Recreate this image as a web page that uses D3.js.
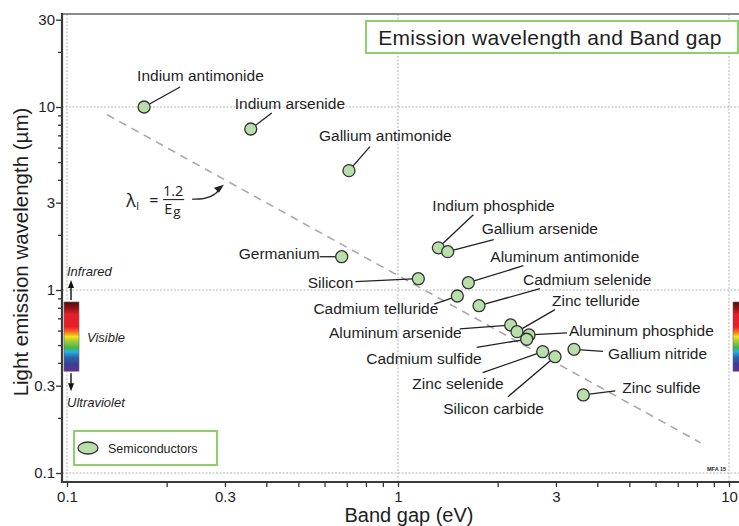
<!DOCTYPE html>
<html><head><meta charset="utf-8">
<script src="https://cdn.jsdelivr.net/npm/d3@7"></script>
<style>
body{margin:0;background:#fff}
svg{display:block}
text{font-family:"Liberation Sans",Arial,Helvetica,sans-serif;fill:#1e1e1e}
</style>
</head><body>
<svg id="c" width="739" height="526"></svg>
<script>
// ---------- data ----------
const materials = ["Indium antimonide","Indium arsenide","Gallium antimonide","Germanium","Silicon",
  "Indium phosphide","Gallium arsenide","Aluminum antimonide","Cadmium telluride","Cadmium selenide",
  "Aluminum arsenide","Zinc telluride","Aluminum phosphide","Cadmium sulfide","Gallium nitride",
  "Zinc selenide","Silicon carbide","Zinc sulfide"];
const bandGap = [0.171,0.359,0.711,0.676,1.152,1.324,1.413,1.631,1.511,1.757,2.19,2.288,2.488,2.448,3.402,2.736,2.981,3.63];
const wavelength = [10,7.58,4.49,1.52,1.153,1.70,1.62,1.096,0.927,0.821,0.644,0.592,0.568,0.538,0.474,0.460,0.432,0.267];
const xTickLabels = [0.1,0.3,1,3,10];
const yTickLabels = [0.1,0.3,1,3,10,30];
const fitBandGap = [0.132, 8.2];
const fitConstant = 1.2;
const visibleRange = [0.36, 0.86];
const legendLabel = "Semiconductors";
const chartTitle = "Emission wavelength and Band gap";

// label layout: text offset, anchor, leader end offset (pixels relative to the point)
const labelLayout = [
  [-7,-26,"start",36,-20],[-16,-20,"start",21,-16],[-30,-30,"start",21,-24],[-22,2.5,"end",-22,0],
  [-65,9.5,"end",-63,3],[-6,-37,"start",35,-33],[34,-18,"start",46,-12],[22,-21,"start",55,-17],
  [-19,18,"end",-23,8],[44,-21,"start",61,-17],[-49,13,"end",-51,4],[35,-26,"start",38,-22],
  [40,1,"start",38,-2],[-45,25,"end",-50,8],[34,10,"start",29,2],[-39,37,"end",-60,21],
  [-11,57,"end",-47,40],[39,-2,"start",32,-4]
];

// ---------- scales ----------
const svg = d3.select("#c");
const x = d3.scaleLog().domain([0.1,10]).range([67,729]);
const y = d3.scaleLog().domain([0.1,10]).range([473,107]);
const pLeft = 62, pRight = 739, pTop = 14, pBottom = 482;

// gradient
const defs = svg.append("defs");
const grad = defs.append("linearGradient").attr("id","spec").attr("x1",0).attr("y1",0).attr("x2",0).attr("y2",1);
[[0,"#4e0d0d"],[0.1,"#9c1414"],[0.18,"#e3202a"],[0.36,"#ed1c24"],[0.44,"#f47a20"],[0.5,"#f7e317"],
 [0.56,"#a6cf3a"],[0.66,"#45b649"],[0.72,"#27b1e6"],[0.8,"#2b62b0"],[0.9,"#3d3c97"],[1,"#6a2a8c"]]
 .forEach(s=>grad.append("stop").attr("offset",s[0]).attr("stop-color",s[1]));

// gridlines
const grid = svg.append("g").attr("stroke","#b4b4b4").attr("stroke-width",1).attr("stroke-dasharray","2,1.5");
[0.1,1,10].forEach(v=>grid.append("line").attr("x1",x(v)).attr("x2",x(v)).attr("y1",pTop).attr("y2",pBottom));
[0.1,1,10].forEach(v=>grid.append("line").attr("y1",y(v)).attr("y2",y(v)).attr("x1",pLeft).attr("x2",pRight));

// frame top
svg.append("line").attr("x1",pLeft).attr("x2",pRight).attr("y1",pTop).attr("y2",pTop).attr("stroke","#8a8a8a").attr("stroke-width",2.2);

// minor tick values
function logTicks(lo,hi){const t=[];for(let e=-1;e<=1;e++)for(let m=1;m<=9;m++){const v=+(m*Math.pow(10,e)).toPrecision(3);if(v>=lo&&v<=hi)t.push(v);}return t;}
const fmt = d3.format("~g");

// y axis
const yMinor = d3.axisLeft(y).tickValues(logTicks(0.1,30).filter(v=>!yTickLabels.includes(v))).tickSize(4).tickFormat("");
const yMajor = d3.axisLeft(y).tickValues(yTickLabels).tickSize(6).tickPadding(1).tickFormat(fmt);
[yMinor,yMajor].forEach(a=>{
  const g = svg.append("g").attr("transform",`translate(${pLeft},0)`).call(a);
  g.select(".domain").remove();
  g.selectAll("line").attr("stroke","#333").attr("stroke-width",1.3);
  g.selectAll("text").attr("font-size",15).attr("fill","#1e1e1e").style("font-family","Liberation Sans, Arial, sans-serif");
});
// x axis
const xMinor = d3.axisBottom(x).tickValues(logTicks(0.1,10).filter(v=>!xTickLabels.includes(v))).tickSize(5).tickFormat("");
const xMajor = d3.axisBottom(x).tickValues(xTickLabels).tickSize(5).tickPadding(4).tickFormat(fmt);
[xMinor,xMajor].forEach(a=>{
  const g = svg.append("g").attr("transform",`translate(0,${pBottom})`).call(a);
  g.select(".domain").remove();
  g.selectAll("line").attr("stroke","#333").attr("stroke-width",1.3);
  g.selectAll("text").attr("font-size",15).attr("fill","#1e1e1e").style("font-family","Liberation Sans, Arial, sans-serif");
});
// axis lines
svg.append("line").attr("x1",pLeft).attr("x2",pLeft).attr("y1",pTop-1).attr("y2",pBottom+1).attr("stroke","#3a3a3a").attr("stroke-width",2.2);
svg.append("line").attr("x1",pLeft-1).attr("x2",pRight).attr("y1",pBottom).attr("y2",pBottom).attr("stroke","#3a3a3a").attr("stroke-width",2.2);

// axis titles
svg.append("text").attr("x",409).attr("y",522).attr("text-anchor","middle").attr("font-size",20).text("Band gap (eV)");
svg.append("text").attr("transform","translate(28,252) rotate(-90)").attr("text-anchor","middle").attr("font-size",20.5).text("Light emission wavelength (µm)");

// fit line
svg.append("line")
  .attr("x1",x(fitBandGap[0])).attr("y1",y(fitConstant/fitBandGap[0]))
  .attr("x2",x(fitBandGap[1])).attr("y2",y(fitConstant/fitBandGap[1]))
  .attr("stroke","#a9a9a9").attr("stroke-width",1.6).attr("stroke-dasharray","8,6");

// formula annotation
const fx = x(0.153), fy = y(3.1);
const fg = svg.append("g");
const ff = "'Open Sans','Noto Sans',sans-serif";
fg.append("text").attr("x",fx-2).attr("y",fy+7).attr("font-size",18).style("font-family",ff).text("λ");
fg.append("text").attr("x",fx+8).attr("y",fy+10).attr("font-size",11).style("font-family",ff).text("l");
fg.append("text").attr("x",fx+21).attr("y",fy+6).attr("font-size",16).style("font-family",ff).text("=");
fg.append("text").attr("x",fx+45).attr("y",fy-4).attr("text-anchor","middle").attr("font-size",14.5).style("font-family",ff).text(String(fitConstant));
fg.append("line").attr("x1",fx+35).attr("x2",fx+56).attr("y1",fy-0.5).attr("y2",fy-0.5).attr("stroke","#222").attr("stroke-width",1.1);
fg.append("text").attr("x",fx+36).attr("y",fy+14).attr("font-size",14.5).style("font-family",ff).text("E");
fg.append("text").attr("x",fx+45).attr("y",fy+16).attr("font-size",13.5).style("font-family",ff).text("g");
// curved arrow pointing to the fit line
const ax = x(0.3)-2, ay = y(fitConstant/0.3)+6;
svg.append("path").attr("d",`M${fx+64},${fy-1} Q${fx+84},${fy} ${ax-3},${ay+3}`).attr("fill","none").attr("stroke","#222").attr("stroke-width",1.2);
svg.append("path").attr("d",`M${ax+1},${ay-1} L${ax-9},${ay+2} L${ax-4},${ay+7} Z`).attr("fill","#222");

// spectrum bars
const barTop = y(visibleRange[1]), barBot = y(visibleRange[0]);
svg.append("rect").attr("x",64).attr("y",barTop).attr("width",15).attr("height",barBot-barTop).attr("fill","url(#spec)").attr("stroke","#666").attr("stroke-width",0.6);
svg.append("rect").attr("x",733).attr("y",barTop).attr("width",10).attr("height",barBot-barTop).attr("fill","url(#spec)").attr("stroke","#666").attr("stroke-width",0.6);
// arrows
const arx = 71;
svg.append("line").attr("x1",arx).attr("x2",arx).attr("y1",barTop-2).attr("y2",barTop-16).attr("stroke","#111").attr("stroke-width",1.4);
svg.append("path").attr("d",`M${arx-3},${barTop-14} L${arx},${barTop-22} L${arx+3},${barTop-14} Z`).attr("fill","#111");
svg.append("line").attr("x1",arx).attr("x2",arx).attr("y1",barBot+2).attr("y2",barBot+14).attr("stroke","#111").attr("stroke-width",1.4);
svg.append("path").attr("d",`M${arx-3},${barBot+12} L${arx},${barBot+20} L${arx+3},${barBot+12} Z`).attr("fill","#111");
svg.append("text").attr("x",67).attr("y",barTop-26).attr("font-size",13).attr("font-style","italic").text("Infrared");
svg.append("text").attr("x",87).attr("y",(barTop+barBot)/2+5).attr("font-size",13).attr("font-style","italic").text("Visible");
svg.append("text").attr("x",67).attr("y",barBot+36).attr("font-size",13).attr("font-style","italic").text("Ultraviolet");

// leader lines, points, labels
const pts = materials.map((m,i)=>({name:m,px:x(bandGap[i]),py:y(wavelength[i]),L:labelLayout[i]}));
svg.append("g").selectAll("line").data(pts).join("line")
  .attr("x1",d=>d.px).attr("y1",d=>d.py).attr("x2",d=>d.px+d.L[3]).attr("y2",d=>d.py+d.L[4])
  .attr("stroke","#222").attr("stroke-width",1.3);
svg.append("g").selectAll("circle").data(pts).join("circle")
  .attr("cx",d=>d.px).attr("cy",d=>d.py).attr("r",6)
  .attr("fill","#b8deaa").attr("stroke","#333").attr("stroke-width",1.3);
svg.append("g").selectAll("text").data(pts).join("text")
  .attr("x",d=>d.px+d.L[0]).attr("y",d=>d.py+d.L[1]).attr("text-anchor",d=>d.L[2])
  .attr("font-size",15.5).text(d=>d.name);

// title box
svg.append("rect").attr("x",366).attr("y",21).attr("width",372).attr("height",32).attr("fill","#fff").attr("stroke","#8cd06c").attr("stroke-width",2);
svg.append("text").attr("x",550).attr("y",45).attr("text-anchor","middle").attr("font-size",21).attr("letter-spacing",0.3).text(chartTitle);

// legend
svg.append("rect").attr("x",74).attr("y",431).attr("width",143).attr("height",34).attr("fill","#fff").attr("stroke","#8cd06c").attr("stroke-width",2);
svg.append("ellipse").attr("cx",88).attr("cy",448).attr("rx",10).attr("ry",6).attr("fill","#b8deaa").attr("stroke","#333").attr("stroke-width",1.3);
svg.append("text").attr("x",108).attr("y",452.5).attr("font-size",12.5).text(legendLabel);

// credit
svg.append("text").attr("x",707).attr("y",471).attr("font-size",5.5).attr("font-weight","bold").text("MFA 15");
</script>
</body></html>
